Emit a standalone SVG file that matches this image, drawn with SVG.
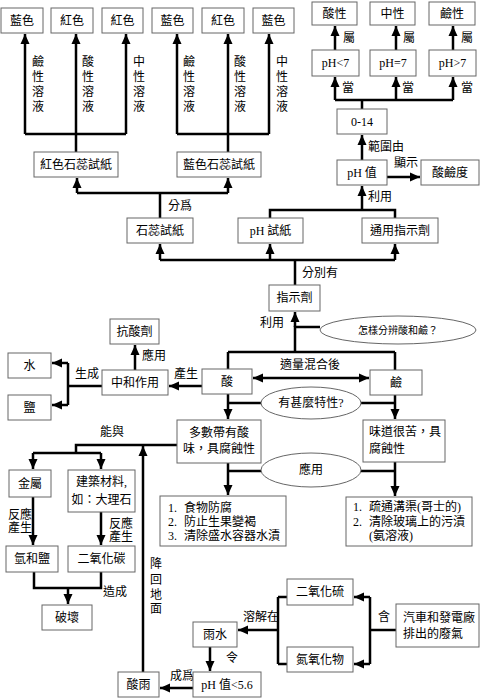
<svg xmlns="http://www.w3.org/2000/svg" width="480" height="698" viewBox="0 0 480 698">
<defs>
<marker id="ah" markerWidth="10" markerHeight="10" refX="10" refY="5" orient="auto-start-reverse" markerUnits="userSpaceOnUse"><path d="M0,0.5 L10,5 L0,9.5 z" fill="#000"/></marker>
<style>
.b{fill:#fff;stroke:#666;stroke-width:1}
.e{fill:#fff;stroke:#666;stroke-width:1}
text{font-family:"Liberation Serif","Noto Sans CJK TC",serif;font-size:12px;fill:#000}
.m{text-anchor:middle}
.s{font-size:10px}
.c path{fill:none;stroke:#000;stroke-width:2.5}
.c .a{marker-end:url(#ah)}
.c .d{marker-start:url(#ah);marker-end:url(#ah)}
</style>
</defs>
<rect width="480" height="698" fill="#fff"/>
<g class="c" id="connectors">
<path d="M25,134 H126 M76,134 V152 M177,134 H269 M228,134 V152"/>
<path class="a" d="M25,134 V34"/><path class="a" d="M76,134 V34"/><path class="a" d="M126,134 V34"/>
<path class="a" d="M177,134 V34"/><path class="a" d="M228,134 V34"/><path class="a" d="M269,134 V34"/>
<path d="M160,218 V193 M77,193 H228"/>
<path class="a" d="M77,193 V178"/><path class="a" d="M228,193 V178"/>
<path d="M295,285 V260 M160,260 H395"/>
<path class="a" d="M160,260 V244"/><path class="a" d="M270,260 V244"/><path class="a" d="M395,260 V244"/>
<path d="M270,218 V210 H395 V218"/>
<path class="a" d="M362,210 V186"/>
<path class="a" d="M362,160 V135"/>
<path class="a" d="M387,177 H420"/>
<path d="M362,109 V100 M335,100 H453"/>
<path class="a" d="M335,100 V77"/><path class="a" d="M396,100 V77"/><path class="a" d="M453,100 V77"/>
<path class="a" d="M335,50 V26"/><path class="a" d="M396,50 V26"/><path class="a" d="M453,50 V26"/>
<path d="M295,352 V327 H320 M228,352 H395 M228,352 V369 M395,352 V370"/>
<path class="a" d="M295,327 V312"/>
<path class="d" d="M253,378 H369"/>
<path class="a" d="M202,386 H169"/>
<path class="a" d="M135,370 V345"/>
<path d="M102,386 H68 M68,363 V405"/>
<path class="a" d="M68,363 H52"/><path class="a" d="M68,405 H52"/>
<path d="M228,403 H261 M361,403 H395"/>
<path class="a" d="M228,394 V419"/><path class="a" d="M395,395 V419"/>
<path d="M228,471 H261 M361,471 H395"/>
<path class="a" d="M228,463 V495"/><path class="a" d="M395,462 V496"/>
<path d="M177,445 H76 V453 M33,453 H101"/>
<path class="a" d="M33,453 V469"/><path class="a" d="M101,453 V469"/>
<path class="a" d="M143,672 V446"/>
<path class="a" d="M33,497 V545"/><path class="a" d="M101,512 V545"/>
<path d="M34,572 V588 H101 V572"/>
<path class="a" d="M68,588 V604"/>
<path class="a" d="M193,688 H160"/>
<path class="a" d="M210,647 V671"/>
<path class="a" d="M278,630 H238"/>
<path d="M278,597 V664 M278,597 H287 M278,664 H287"/>
<path d="M396,630 H370 M370,597 V664"/>
<path class="a" d="M370,597 H354"/><path class="a" d="M370,664 H354"/>
</g>
<g id="labels">
<text x="168" y="210">分爲</text>
<text x="302" y="277">分別有</text>
<text x="260" y="327">利用</text>
<text x="368" y="201">利用</text>
<text x="368" y="151">範圍由</text>
<text x="394" y="167">顯示</text>
<text class="m" x="349" y="42">屬</text><text class="m" x="409" y="42">屬</text><text class="m" x="467" y="42">屬</text>
<text class="m" x="348" y="92">當</text><text class="m" x="408" y="92">當</text><text class="m" x="467" y="92">當</text>
<text x="280" y="369">適量混合後</text>
<text x="174" y="378">產生</text>
<text x="142" y="360">應用</text>
<text x="75" y="378">生成</text>
<text x="100" y="436">能與</text>
<text x="8" y="519">反應</text><text x="8" y="532">產生</text>
<text x="109" y="528">反應</text><text x="109" y="541">產生</text>
<text x="103" y="596">造成</text>
<text class="m" x="156" y="568">降</text><text class="m" x="156" y="584">回</text><text class="m" x="156" y="599">地</text><text class="m" x="156" y="613">面</text>
<text x="170" y="680">成爲</text>
<text class="m" x="232" y="662">令</text>
<text x="243" y="621">溶解在</text>
<text x="378" y="621">含</text>
<text class="m" x="38" y="66">鹼</text><text class="m" x="38" y="81">性</text><text class="m" x="38" y="96">溶</text><text class="m" x="38" y="111">液</text>
<text class="m" x="88" y="66">酸</text><text class="m" x="88" y="81">性</text><text class="m" x="88" y="96">溶</text><text class="m" x="88" y="111">液</text>
<text class="m" x="139" y="66">中</text><text class="m" x="139" y="81">性</text><text class="m" x="139" y="96">溶</text><text class="m" x="139" y="111">液</text>
<text class="m" x="189" y="66">鹼</text><text class="m" x="189" y="81">性</text><text class="m" x="189" y="96">溶</text><text class="m" x="189" y="111">液</text>
<text class="m" x="240" y="66">酸</text><text class="m" x="240" y="81">性</text><text class="m" x="240" y="96">溶</text><text class="m" x="240" y="111">液</text>
<text class="m" x="282" y="66">中</text><text class="m" x="282" y="81">性</text><text class="m" x="282" y="96">溶</text><text class="m" x="282" y="111">液</text>
</g>
<g id="n1"><rect class="b" x="1" y="8" width="42" height="25"/><text class="m" x="22" y="25">藍色</text></g>
<g id="n2"><rect class="b" x="51" y="8" width="42" height="25"/><text class="m" x="72" y="25">紅色</text></g>
<g id="n3"><rect class="b" x="102" y="8" width="41" height="25"/><text class="m" x="122.5" y="25">紅色</text></g>
<g id="n4"><rect class="b" x="152" y="8" width="41" height="25"/><text class="m" x="172.5" y="25">藍色</text></g>
<g id="n5"><rect class="b" x="202" y="8" width="42" height="25"/><text class="m" x="223" y="25">紅色</text></g>
<g id="n6"><rect class="b" x="253" y="8" width="41" height="25"/><text class="m" x="273.5" y="25">藍色</text></g>
<g id="n7"><rect class="b" x="312" y="2" width="45" height="23"/><text class="m" x="334.5" y="18">酸性</text></g>
<g id="n8"><rect class="b" x="370" y="2" width="45" height="23"/><text class="m" x="392.5" y="18">中性</text></g>
<g id="n9"><rect class="b" x="429" y="2" width="46" height="23"/><text class="m" x="452" y="18">鹼性</text></g>
<g id="n10"><rect class="b" x="312" y="50" width="47" height="26"/><text class="m" x="335.5" y="67">pH&lt;7</text></g>
<g id="n11"><rect class="b" x="370" y="50" width="46" height="26"/><text class="m" x="393" y="67">pH=7</text></g>
<g id="n12"><rect class="b" x="429" y="50" width="47" height="26"/><text class="m" x="452.5" y="67">pH&gt;7</text></g>
<g id="n13"><rect class="b" x="337" y="109" width="50" height="25"/><text class="m" x="362" y="126">0-14</text></g>
<g id="n14"><rect class="b" x="34" y="152" width="84" height="25"/><text class="m" x="76" y="169">紅色石蕊試紙</text></g>
<g id="n15"><rect class="b" x="177" y="152" width="84" height="25"/><text class="m" x="219" y="169">藍色石蕊試紙</text></g>
<g id="n16"><rect class="b" x="337" y="160" width="50" height="25"/><text class="m" x="362" y="177">pH 值</text></g>
<g id="n17"><rect class="b" x="421" y="160" width="58" height="25"/><text class="m" x="450" y="177">酸鹼度</text></g>
<g id="n18"><rect class="b" x="127" y="218" width="66" height="25"/><text class="m" x="160" y="235">石蕊試紙</text></g>
<g id="n19"><rect class="b" x="238" y="218" width="65" height="25"/><text class="m" x="270.5" y="235">pH 試紙</text></g>
<g id="n20"><rect class="b" x="362" y="218" width="76" height="25"/><text class="m" x="400" y="235">通用指示劑</text></g>
<g id="n21"><rect class="b" x="269" y="285" width="51" height="26"/><text class="m" x="294.5" y="302">指示劑</text></g>
<g id="n22"><ellipse class="e" cx="398" cy="330" rx="78" ry="14"/><text class="m s" x="398" y="334">怎樣分辨酸和鹼？</text></g>
<g id="n23"><rect class="b" x="110" y="319" width="49" height="25"/><text class="m" x="134.5" y="336">抗酸劑</text></g>
<g id="n24"><rect class="b" x="8" y="353" width="43" height="25"/><text class="m" x="29.5" y="370">水</text></g>
<g id="n25"><rect class="b" x="8" y="395" width="43" height="25"/><text class="m" x="29.5" y="412">鹽</text></g>
<g id="n26"><rect class="b" x="102" y="370" width="66" height="25"/><text class="m" x="135" y="387">中和作用</text></g>
<g id="n27"><rect class="b" x="202" y="369" width="50" height="25"/><text class="m" x="227" y="386">酸</text></g>
<g id="n28"><rect class="b" x="370" y="370" width="52" height="25"/><text class="m" x="396" y="387">鹼</text></g>
<g id="n29"><ellipse class="e" cx="311" cy="403" rx="50" ry="16"/><text class="m" x="311" y="407">有甚麼特性?</text></g>
<g id="n30"><rect class="b" x="177" y="420" width="84" height="43"/><text class="m" x="219" y="437">多數帶有酸</text><text class="m" x="219" y="453">味，具腐蝕性</text></g>
<g id="n31"><rect class="b" x="363" y="420" width="82" height="42"/><text x="369" y="436">味道很苦，具</text><text x="369" y="453">腐蝕性</text></g>
<g id="n32"><ellipse class="e" cx="311" cy="470" rx="50" ry="17"/><text class="m" x="311" y="474">應用</text></g>
<g id="n33"><rect class="b" x="160" y="496" width="126" height="50"/><text x="168" y="512">1.</text><text x="184" y="512">食物防腐</text><text x="168" y="526">2.</text><text x="184" y="526">防止生果變褐</text><text x="168" y="540">3.</text><text x="184" y="540">清除盛水容器水漬</text></g>
<g id="n34"><rect class="b" x="346" y="497" width="126" height="49"/><text x="353" y="511">1.</text><text x="369" y="511">疏通溝渠(哥士的)</text><text x="353" y="526">2.</text><text x="369" y="526">清除玻璃上的污漬</text><text x="369" y="540">(氨溶液)</text></g>
<g id="n35"><rect class="b" x="9" y="470" width="42" height="27"/><text class="m" x="30" y="488">金屬</text></g>
<g id="n36"><rect class="b" x="68" y="470" width="67" height="42"/><text class="m" x="101.5" y="486">建築材料,</text><text class="m" x="101.5" y="504">如：大理石</text></g>
<g id="n37"><rect class="b" x="6" y="546" width="52" height="26"/><text class="m" x="32" y="563">氫和鹽</text></g>
<g id="n38"><rect class="b" x="68" y="546" width="67" height="26"/><text class="m" x="101.5" y="563">二氧化碳</text></g>
<g id="n39"><rect class="b" x="42" y="605" width="50" height="25"/><text class="m" x="67" y="622">破壞</text></g>
<g id="n40"><rect class="b" x="193" y="622" width="44" height="25"/><text class="m" x="215" y="639">雨水</text></g>
<g id="n41"><rect class="b" x="118" y="672" width="41" height="25"/><text class="m" x="138.5" y="689">酸雨</text></g>
<g id="n42"><rect class="b" x="193" y="672" width="68" height="25"/><text class="m" x="227" y="689">pH 值&lt;5.6</text></g>
<g id="n43"><rect class="b" x="287" y="579" width="66" height="26"/><text class="m" x="320" y="596">二氧化硫</text></g>
<g id="n44"><rect class="b" x="287" y="647" width="66" height="25"/><text class="m" x="320" y="664">氮氧化物</text></g>
<g id="n45"><rect class="b" x="396" y="604" width="83" height="43"/><text x="403" y="622">汽車和發電廠</text><text x="403" y="638">排出的廢氣</text></g>
</svg>
